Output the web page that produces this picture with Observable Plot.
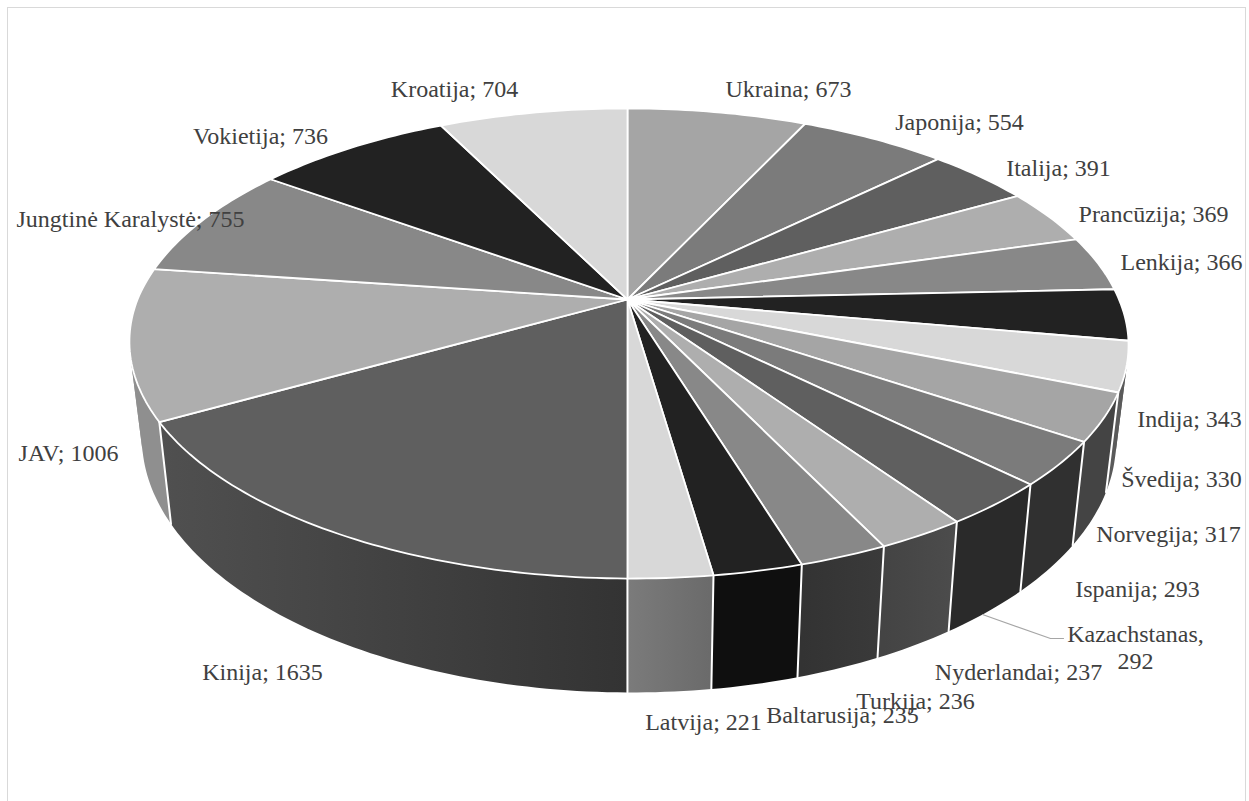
<!DOCTYPE html>
<html><head><meta charset="utf-8">
<script src="https://cdn.jsdelivr.net/npm/d3@7"></script>
<script src="https://cdn.jsdelivr.net/npm/@observablehq/plot@0.6"></script>
<style>
html,body{margin:0;padding:0;background:#fff;overflow:hidden}
#frame{position:absolute;left:7px;top:7px;width:1237px;height:900px;border:1px solid #d9d9d9}
#chart{position:absolute;left:0;top:0}
</style></head><body>
<div id="frame"></div><div id="chart"></div>
<script>
const names = ["Ukraina","Japonija","Italija","Prancūzija","Lenkija","Indija","Švedija","Norvegija","Ispanija","Kazachstanas","Nyderlandai","Turkija","Baltarusija","Latvija","Kinija","JAV","Jungtinė Karalystė","Vokietija","Kroatija"];
const values = [673,554,391,369,366,343,330,317,293,292,237,236,235,221,1635,1006,755,736,704];
const topColors = ["#a5a5a5","#7b7b7b","#5f5f5f","#aeaeae","#888888","#222222","#d8d8d8","#a5a5a5","#7b7b7b","#5f5f5f","#aeaeae","#888888","#222222","#d8d8d8","#5f5f5f","#aeaeae","#888888","#222222","#d8d8d8"];
const sideStart = ["#777777","#575757","#444444","#7c7c7c","#606060","#181818","#5a5a5a","#444444","#303030","#2a2a2a","#4c4c4c","#3a3a3a","#0f0f0f","#6a6a6a","#333333","#8f8f8f","#606060","#181818","#999999"];
const sideEnd   = ["#777777","#575757","#444444","#7c7c7c","#606060","#181818","#5a5a5a","#444444","#303030","#2a2a2a","#444444","#333333","#0f0f0f","#7b7b7b","#505050","#8f8f8f","#606060","#181818","#999999"];
const labelX = [788,959,1058,1153,1181,1189,1181,1168,1137,1135,1018,915,842,703,262,68,130,260,454];
const labelY = [89,122,168,214,262,419,479,534,589,647,672,701,715,722,672,453,219,136,89];
const labelText = names.map((n,i)=> n==="Kazachstanas" ? `${n},\n${values[i]}` : `${n}; ${values[i]}`);
const leaderX = [982,1050,1063];
const leaderY = [614,638,638];

const total = d3.sum(values);
const cum = d3.cumsum(values);
const hub = [627,299], a = 490, b = 226.8, k = 0.1872, depth = 92.6, shrink = 0.975;
function rim(f){
  let t = f*2*Math.PI;
  if (Math.sin(t)<0) t += 0.01*Math.sin(t);
  const u = Math.sin(t), v = Math.cos(t), w = 1+k*v;
  const x = hub[0]+1.5*Math.max(0,u)+4*Math.max(0,-v)+a*u/w, y = hub[1]-b*v/w;
  return {x,y,bx:hub[0]+(x-hub[0])*shrink,by:y+depth/w,v};
}
const tops=[], sides=[], edges=[];
values.forEach((val,i)=>{
  const f0=(cum[i]-val)/total, f1=cum[i]/total, n=Math.max(6,Math.ceil((f1-f0)*360));
  const pts=d3.range(n+1).map(j=>rim(f0+(f1-f0)*j/n));
  tops.push({color:topColors[i],pts:[{x:hub[0],y:hub[1]},...pts,{x:hub[0],y:hub[1]}]});
  const front=pts.filter(p=>p.v<0.25);
  // Split the wall where it folds at the silhouette, so each piece is a simple polygon.
  let run=[];
  const flush=()=>{
    if(run.length>1) sides.push({i,x1:pts[0].x,x2:pts[n].x,
      pts:[...run.map(p=>({x:p.x,y:p.y})),...run.slice().reverse().map(p=>({x:p.bx,y:p.by})),{x:run[0].x,y:run[0].y}]});
  };
  let lastSign=0;
  front.forEach((p,j)=>{
    run.push(p);
    const q=front[j+1];
    if(!q) return;
    const sign=Math.sign((q.x-p.x)*(p.by-p.y)-(q.y-p.y)*(p.bx-p.x));
    if(lastSign && sign!==lastSign){ flush(); run=[p]; }
    lastSign=sign;
  });
  flush();
  if(pts[0].v<-0.25){ edges.push({id:i,x:pts[0].x,y:pts[0].y},{id:i,x:pts[0].bx,y:pts[0].by}); }
});
const labels=labelText.map((t,i)=>({t,x:labelX[i],y:labelY[i]}));
const leader=leaderX.map((x,i)=>({x,y:leaderY[i]}));
const gradientSlices=[...new Set(sides.map(s=>s.i))];
// Side gradients run along the x scale, from each slice's first rim point to its last.
function gradients(index,{x}){
  const defs=d3.create("svg:defs");
  gradientSlices.forEach(i=>{
    const s=sides.find(d=>d.i===i);
    const g=defs.append("linearGradient").attr("id",`side${i}`).attr("gradientUnits","userSpaceOnUse")
      .attr("x1",x(s.x1)).attr("x2",x(s.x2)).attr("y1",0).attr("y2",0);
    g.append("stop").attr("offset",0).attr("stop-color",sideStart[i]);
    g.append("stop").attr("offset",1).attr("stop-color",sideEnd[i]);
  });
  return defs.node();
}
const plot=Plot.plot({
  width:1249,height:801,margin:0,
  style:{background:"transparent"},
  x:{domain:[0,1249],axis:null},
  y:{domain:[0,801],reverse:true,axis:null},
  marks:[
    gradients,
    ...sides.map(s=>Plot.line(s.pts,{x:"x",y:"y",fill:`url(#side${s.i})`,stroke:"none"})),
    Plot.line(edges,{x:"x",y:"y",z:"id",stroke:"#fff",strokeWidth:2}),
    ...tops.map(s=>Plot.line(s.pts,{x:"x",y:"y",fill:s.color,stroke:"#fff",strokeWidth:1.8})),
    Plot.line(leader,{x:"x",y:"y",stroke:"#a6a6a6",strokeWidth:1.2}),
    Plot.text(labels,{x:"x",y:"y",text:"t",dy:-0.5,fill:"#404040",fontFamily:"Liberation Serif",fontSize:24,lineHeight:1.1,textAnchor:"middle"})
  ]
});
document.getElementById("chart").append(plot);
</script></body></html>
